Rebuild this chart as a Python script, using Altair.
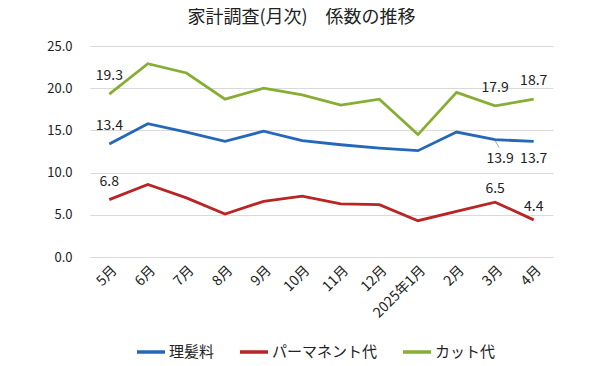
import altair as alt
import pandas as pd

months = ["5月", "6月", "7月", "8月", "9月", "10月", "11月", "12月", "2025年1月", "2月", "3月", "4月"]
haircut = [13.4, 15.8, 14.8, 13.7, 14.9, 13.8, 13.3, 12.9, 12.6, 14.8, 13.9, 13.7]
perm = [6.8, 8.6, 7.0, 5.1, 6.6, 7.2, 6.3, 6.2, 4.3, 5.4, 6.5, 4.4]
cut = [19.3, 22.9, 21.8, 18.7, 20.0, 19.2, 18.0, 18.7, 14.5, 19.5, 17.9, 18.7]
series_names = ["理髪料", "パーマネント代", "カット代"]
colors = ["#2567B9", "#B92424", "#86AE32"]
label_months = ["5月", "3月", "4月"]
y_ticks = [0, 5, 10, 15, 20, 25]

rows = []
for name, vals in zip(series_names, [haircut, perm, cut]):
    for m, v in zip(months, vals):
        rows.append({"month": m, "value": v, "series": name})
df = pd.DataFrame(rows)
lab = df[df["month"].isin(label_months)]

FONT = "Noto Sans CJK JP"

x_enc = alt.X("month:N", sort=months, scale=alt.Scale(type="point", padding=0.5),
              axis=alt.Axis(title=None, labelAngle=-45, labelFontSize=14, labelColor="#222",
                            labelFont=FONT, ticks=False, domain=False, grid=False, labelPadding=6))
y_enc = alt.Y("value:Q", scale=alt.Scale(domain=[0, 25], nice=False, zero=True),
              axis=alt.Axis(title=None, values=y_ticks, format=".1f", labelFontSize=13,
                            labelColor="#222", labelFont=FONT, ticks=False, domain=False,
                            grid=True, gridColor="#d9d9d9", labelPadding=18))

lines = alt.Chart(df).mark_line(strokeWidth=2.8).encode(
    x=x_enc, y=y_enc,
    color=alt.Color("series:N", sort=series_names,
                    scale=alt.Scale(domain=series_names, range=colors),
                    legend=alt.Legend(title=None, orient="none", direction="horizontal",
                                      legendX=45, legendY=290, symbolType="stroke",
                                      symbolSize=784, symbolStrokeWidth=3.5,
                                      labelFontSize=15, labelFont=FONT, labelColor="#222",
                                      columnPadding=18, labelOffset=2)),
)

txt = dict(fontSize=14, font=FONT, color="#222", baseline="alphabetic", align="center")
x_t = alt.X("month:N", sort=months)
y_t = alt.Y("value:Q")

above = alt.Chart(lab).transform_filter(
    "datum.series != '理髪料' ? (datum.series == 'カット代' || datum.month == '5月') : datum.month == '5月'"
).mark_text(dy=-14, **txt).encode(x=x_t, y=y_t, text=alt.Text("value:Q", format=".1f"))

near = alt.Chart(lab).transform_filter(
    "datum.series == 'パーマネント代' && datum.month != '5月'"
).mark_text(dy=-9, **txt).encode(x=x_t, y=y_t, text=alt.Text("value:Q", format=".1f"))

below3 = alt.Chart(lab).transform_filter(
    "datum.series == '理髪料' && datum.month == '3月'"
).mark_text(dy=23, dx=5, **txt).encode(x=x_t, y=y_t, text=alt.Text("value:Q", format=".1f"))

below4 = alt.Chart(lab).transform_filter(
    "datum.series == '理髪料' && datum.month == '4月'"
).mark_text(dy=22, **txt).encode(x=x_t, y=y_t, text=alt.Text("value:Q", format=".1f"))

leader = alt.Chart(lab).transform_filter(
    "datum.series == '理髪料' && datum.month == '3月'"
).mark_rule(color="#a6a6a6", strokeWidth=1, yOffset=1, y2Offset=8, x2Offset=4).encode(
    x=x_t, x2=alt.X2("month:N"), y=y_t, y2=alt.Y2("value:Q"))

chart = alt.layer(lines, leader, above, near, below3, below4).properties(
    width=463, height=211,
    title=alt.TitleParams("家計調査(月次)　係数の推移", fontSize=18, font=FONT, fontWeight="normal",
                          color="#222", anchor="middle", frame="group", dx=-20, offset=13),
    autosize=alt.AutoSizeParams(type="none"),
    padding={"left": 82, "top": 38, "right": 39, "bottom": 106},
).configure_view(stroke=None)

chart.save("out.html", embed_options={"renderer": "svg", "actions": False})
